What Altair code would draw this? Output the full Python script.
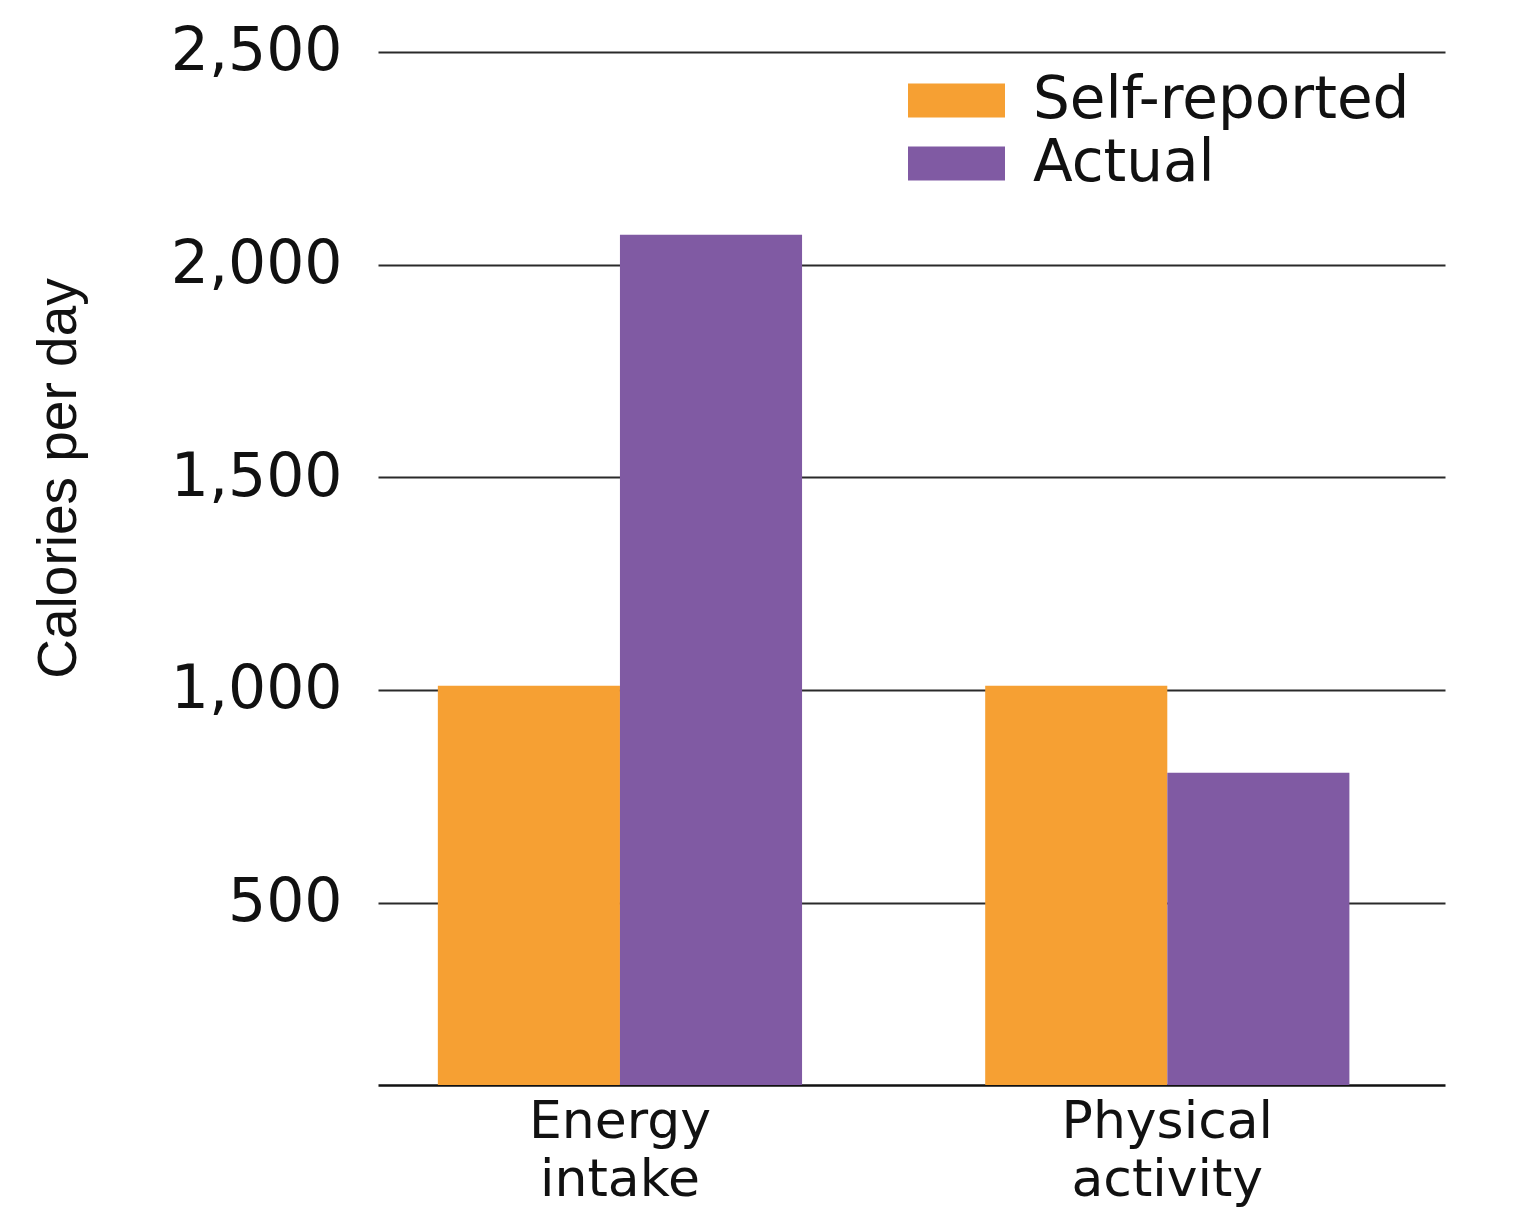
import altair as alt
import pandas as pd

categories = ["Energy intake", "Physical activity"]
series = ["Self-reported", "Actual"]
self_reported = [1010, 1010]
actual = [2070, 805]
y_ticks = [500, 1000, 1500, 2000, 2500]
colors = ["#F6A033", "#805AA3"]

rows = []
for i, c in enumerate(categories):
    rows.append({"category": c, "series": series[0], "value": self_reported[i]})
    rows.append({"category": c, "series": series[1], "value": actual[i]})
df = pd.DataFrame(rows)

chart = (
    alt.Chart(df)
    .mark_bar()
    .encode(
        x=alt.X(
            "category:N",
            sort=categories,
            scale=alt.Scale(paddingInner=0.3346, paddingOuter=0.142, align=0.385),
            axis=alt.Axis(
                title=None,
                labelAngle=0,
                labelExpr="split(datum.label, ' ')",
                labelFont="DejaVu Sans",
                labelFontSize=52,
                labelLineHeight=58,
                labelColor="#111111",
                labelPadding=11,
                labelLimit=800,
                ticks=False,
                domain=True,
                domainColor="#111111",
                domainWidth=2.5,
                grid=False,
            ),
        ),
        xOffset=alt.XOffset("series:N", sort=series, scale=alt.Scale(paddingInner=0, paddingOuter=0)),
        y=alt.Y(
            "value:Q",
            scale=alt.Scale(domain=[71, 2521], nice=False, zero=False, clamp=True),
            axis=alt.Axis(
                values=y_ticks,
                format=",.0f",
                title="Calories per day",
                titleFont="Liberation Sans",
                titleFontSize=55,
                titleFontWeight="normal",
                titleColor="#111111",
                titleAngle=270,
                titleAlign="center",
                titleBaseline="middle",
                titleX=-320,
                titleY=435,
                labelFont="DejaVu Sans",
                labelFontSize=60,
                labelColor="#111111",
                labelPadding=36,
                labelLimit=800,
                ticks=False,
                domain=False,
                grid=True,
                gridColor="#2a2a2a",
                gridWidth=2,
            ),
        ),
        color=alt.Color(
            "series:N",
            sort=series,
            scale=alt.Scale(domain=series, range=colors),
            legend=alt.Legend(
                title=None,
                orient="none",
                legendX=530,
                legendY=27,
                symbolType="M-1,-0.35L1,-0.35L1,0.35L-1,0.35Z",
                symbolSize=9409,
                symbolStrokeWidth=0,
                symbolOpacity=1,
                labelFont="DejaVu Sans",
                labelFontSize=58,
                labelColor="#111111",
                labelOffset=28,
                labelLimit=800,
                clipHeight=61,
                rowPadding=2,
            ),
        ),
    )
    .properties(
        width=1067,
        height=1042,
        autosize=alt.AutoSizeParams(type="none"),
        padding={"left": 370, "top": 35, "right": 74, "bottom": 122},
        background="white",
    )
    .configure_view(stroke=None)
)

chart.save("out.html", embed_options={"renderer": "svg", "actions": False})
